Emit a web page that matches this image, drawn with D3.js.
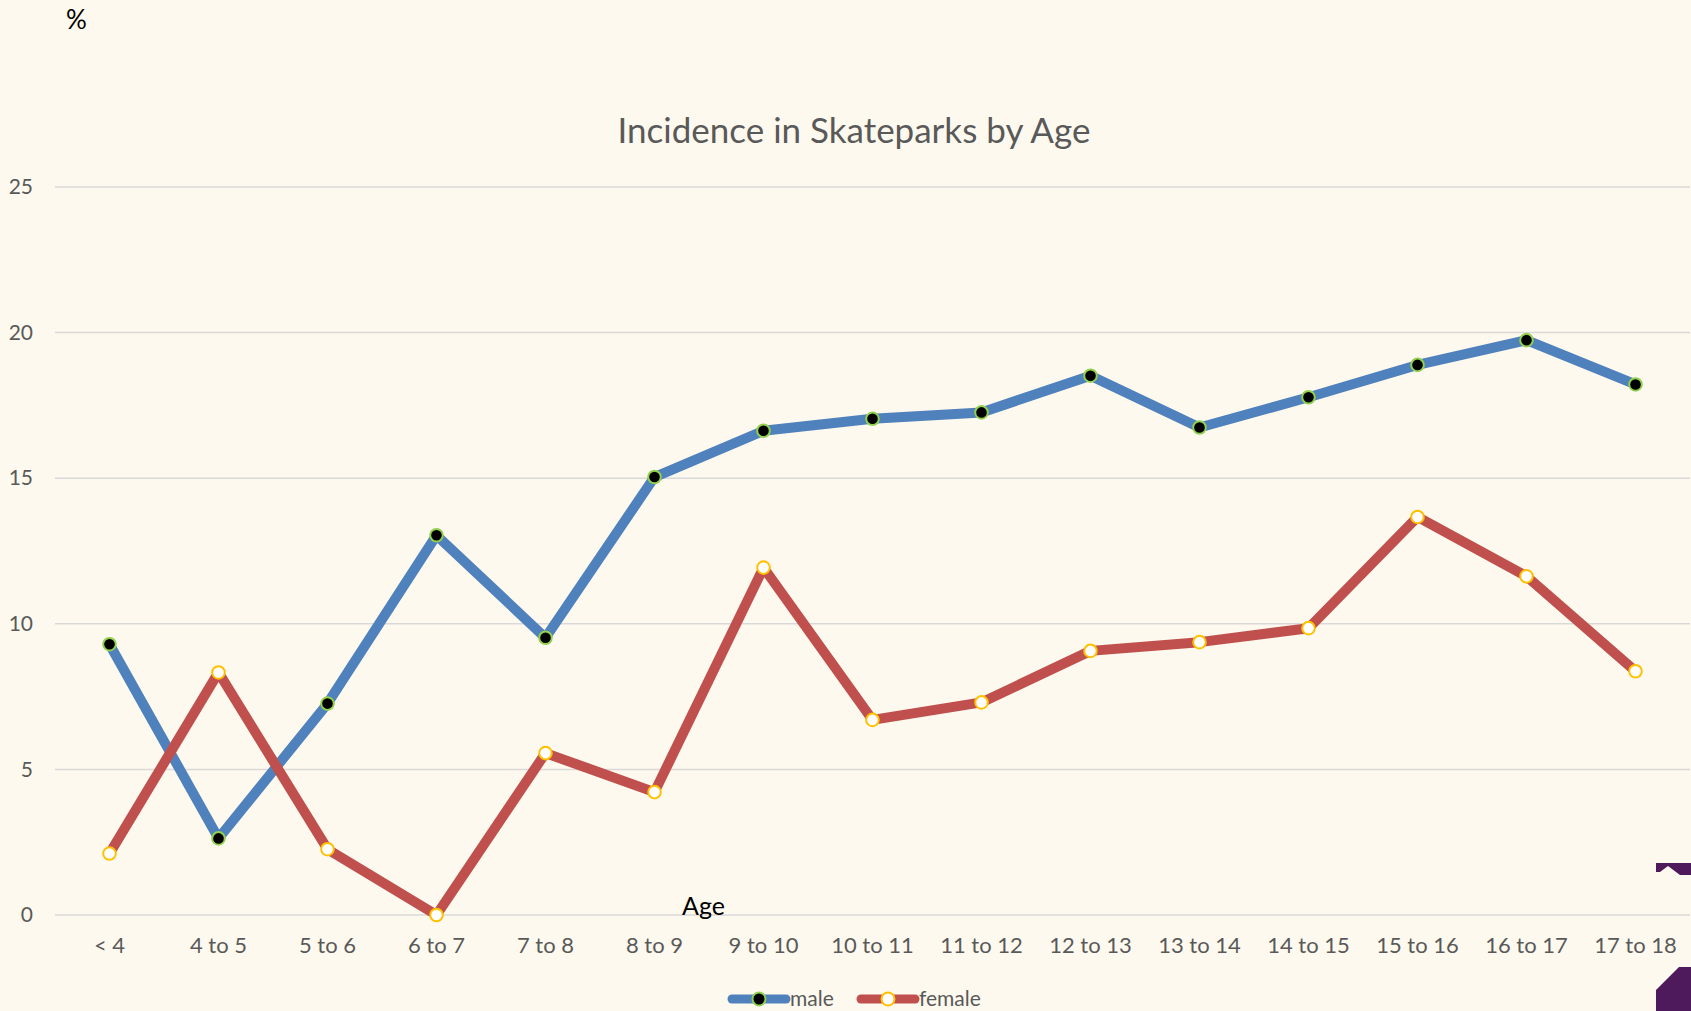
<!DOCTYPE html>
<html>
<head>
<meta charset="utf-8">
<script src="https://cdn.jsdelivr.net/npm/d3@7"></script>
<style>
  body { margin: 0; background: #fef9ee; }
  text { font-family: Lato, "Open Sans", sans-serif; }
</style>
</head>
<body>
<div id="chart"></div>
<script>
// chart data
var ages = ["< 4", "4 to 5", "5 to 6", "6 to 7", "7 to 8", "8 to 9", "9 to 10", "10 to 11",
            "11 to 12", "12 to 13", "13 to 14", "14 to 15", "15 to 16", "16 to 17", "17 to 18"];
var male = [9.3, 2.63, 7.26, 13.04, 9.52, 15.04, 16.63, 17.04, 17.26, 18.52, 16.74, 17.78, 18.89, 19.74, 18.22];
var female = [2.11, 8.33, 2.26, 0, 5.56, 4.22, 11.93, 6.7, 7.3, 9.07, 9.37, 9.85, 13.67, 11.63, 8.37];
var yTicks = [0, 5, 10, 15, 20, 25];
var seriesNames = ["male", "female"];

var W = 1691, H = 1011;
var margin = {top: 187, right: 1, bottom: 96, left: 55};

var svg = d3.select("#chart")
  .append("svg")
    .attr("width", W)
    .attr("height", H);

svg.append("rect").attr("width", W).attr("height", H).attr("fill", "#fef9ee");

var x = d3.scaleBand()
  .domain(ages)
  .range([margin.left, W - margin.right]);

var y = d3.scaleLinear()
  .domain([0, 25])
  .range([H - margin.bottom, margin.top]);

// gridlines
svg.append("g")
  .selectAll("line")
  .data(yTicks)
  .enter().append("line")
    .attr("x1", margin.left)
    .attr("x2", W - margin.right)
    .attr("y1", function(d) { return y(d); })
    .attr("y2", function(d) { return y(d); })
    .attr("stroke", "#d9d9d9")
    .attr("stroke-width", 1.5);

// y axis labels
var yAxis = svg.append("g")
  .attr("transform", "translate(" + margin.left + ",0)")
  .call(d3.axisLeft(y).tickValues(yTicks).tickSize(0).tickPadding(22));
yAxis.select(".domain").remove();
yAxis.selectAll("text")
  .attr("fill", "#595959")
  .style("font-size", "21px");

// x axis labels
var xAxis = svg.append("g")
  .attr("transform", "translate(0," + y(0) + ")")
  .call(d3.axisBottom(x).tickSize(0).tickPadding(22));
xAxis.select(".domain").remove();
xAxis.selectAll("text")
  .attr("fill", "#595959")
  .style("font-size", "22px");

// title and axis titles
svg.append("text")
  .attr("x", 854).attr("y", 143)
  .attr("text-anchor", "middle")
  .attr("fill", "#595959")
  .style("font-size", "35px")
  .text("Incidence in Skateparks by Age");

svg.append("text")
  .attr("x", 66).attr("y", 29)
  .attr("fill", "#000")
  .style("font-size", "26px")
  .text("%");

svg.append("text")
  .attr("x", 682).attr("y", 915)
  .attr("fill", "#000")
  .style("font-size", "25px")
  .text("Age");

var styles = {
  male:   {line: "#4f81bd", fill: "#000000", stroke: "#92d050"},
  female: {line: "#c0504d", fill: "#ffffff", stroke: "#ffc000"}
};
var values = {male: male, female: female};

var line = d3.line()
  .x(function(d, i) { return x(ages[i]) + x.bandwidth() / 2; })
  .y(function(d) { return y(d); });

seriesNames.forEach(function(name) {
  var s = styles[name];
  svg.append("path")
    .datum(values[name])
    .attr("d", line)
    .attr("fill", "none")
    .attr("stroke", s.line)
    .attr("stroke-width", 10)
    .attr("stroke-linejoin", "round")
    .attr("stroke-linecap", "round");
});

seriesNames.forEach(function(name) {
  var s = styles[name];
  svg.append("g")
    .selectAll("circle")
    .data(values[name])
    .enter().append("circle")
      .attr("cx", function(d, i) { return x(ages[i]) + x.bandwidth() / 2; })
      .attr("cy", function(d) { return y(d); })
      .attr("r", 6.3)
      .attr("fill", s.fill)
      .attr("stroke", s.stroke)
      .attr("stroke-width", 2);
});

// legend
var legend = svg.append("g").attr("transform", "translate(732,999)");
var lx = 0;
seriesNames.forEach(function(name) {
  var s = styles[name];
  var g = legend.append("g").attr("transform", "translate(" + lx + ",0)");
  g.append("line")
    .attr("x1", 0).attr("x2", 54)
    .attr("stroke", s.line)
    .attr("stroke-width", 9)
    .attr("stroke-linecap", "round");
  g.append("circle")
    .attr("cx", 27).attr("r", 6.5)
    .attr("fill", s.fill)
    .attr("stroke", s.stroke)
    .attr("stroke-width", 2);
  g.append("text")
    .attr("x", 58).attr("y", 7)
    .attr("fill", "#595959")
    .style("font-size", "21px")
    .text(name);
  lx += 129;
});

// decorative corner shapes
var purple = "#4e1a5c";
svg.append("path")
  .attr("d", "M1656,863 L1691,863 L1691,875 L1680,875 L1668,866 L1660,872 L1656,872 Z")
  .attr("fill", purple);
svg.append("path")
  .attr("d", "M1656,1011 L1656,990 L1679,967 L1691,967 L1691,1011 Z")
  .attr("fill", purple);
</script>
</body>
</html>
